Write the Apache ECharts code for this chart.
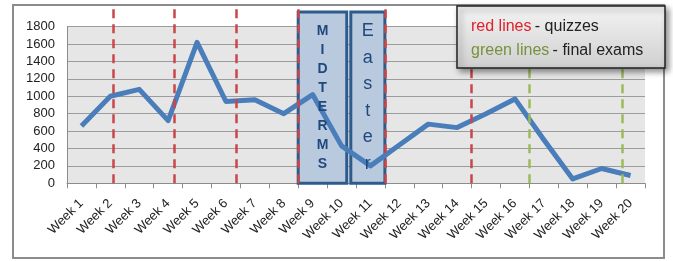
<!doctype html>
<html lang="en">
<head>
    <meta charset="UTF-8">
    <title>Weekly views</title>
    <script src="https://cdn.jsdelivr.net/npm/echarts@6/dist/echarts.min.js"></script>
    <style>
        html, body { margin: 0; padding: 0; background: #fff; }
        #chart { width: 673px; height: 261px; }
    </style>
</head>
<body>
<div id="chart"></div>
<script type="text/javascript">
    // data
    var weeks = ['Week 1','Week 2','Week 3','Week 4','Week 5','Week 6','Week 7','Week 8','Week 9','Week 10',
                 'Week 11','Week 12','Week 13','Week 14','Week 15','Week 16','Week 17','Week 18','Week 19','Week 20'];
    var views = [660, 1000, 1080, 720, 1620, 940, 960, 800, 1020, 430,
                 200, 440, 680, 640, 800, 970, 500, 50, 170, 90];
    var yTicks = [0, 200, 400, 600, 800, 1000, 1200, 1400, 1600, 1800];

    // marker positions, in weeks counted from the left edge of the axis
    var quizLines = [1.6, 3.7, 5.85, 8.0, 11.0, 14.0];
    var examLines = [16.0, 19.2];
    var midtermSpan = [8.0, 9.68];
    var easterSpan = [9.82, 11.0];

    var font = 'Liberation Sans';
    var myChart = echarts.init(document.getElementById('chart'));

    function vlines(list, color) {
        return list.map(function (v) {
            return [{coord: [v, 0], lineStyle: {color: color}}, {coord: [v, 1]}];
        });
    }

    myChart.setOption({
        animation: false,
        textStyle: {fontFamily: font},
        grid: [
            {left: 67, right: 28, top: 26.7, bottom: 77.7, show: true,
             backgroundColor: '#e6e6e6', borderWidth: 0},
            {left: 67, right: 28, top: 6, bottom: 77.7, show: false}
        ],
        xAxis: [
            {
                type: 'category', gridIndex: 0, data: weeks, boundaryGap: true,
                axisLine: {lineStyle: {color: '#8c8c8c', width: 1}},
                axisTick: {show: true, interval: 0, length: 5, lineStyle: {color: '#8c8c8c'}},
                axisLabel: {interval: 0, rotate: 45, fontSize: 13, color: '#222', margin: 18}
            },
            {type: 'value', gridIndex: 1, min: 0, max: 20, show: false}
        ],
        yAxis: [
            {
                type: 'value', gridIndex: 0, min: yTicks[0], max: yTicks[yTicks.length - 1], interval: 200,
                axisLine: {show: true, lineStyle: {color: '#8c8c8c'}},
                axisTick: {show: false},
                axisLabel: {fontSize: 13, color: '#222', margin: 12, formatter: function (v) { return String(v); }},
                splitLine: {lineStyle: {color: '#9c9c9c', width: 1}}
            },
            {type: 'value', gridIndex: 1, min: 0, max: 1, show: false}
        ],
        series: [
            {
                name: 'boxes', type: 'line', xAxisIndex: 1, yAxisIndex: 1, data: [],
                markArea: {
                    silent: true, z: 1,
                    itemStyle: {color: '#b9c9de', borderColor: '#2f5b8c', borderWidth: 3},
                    data: [
                        [{coord: [midtermSpan[0], 0]}, {coord: [midtermSpan[1], 0.966]}],
                        [{coord: [easterSpan[0], 0]}, {coord: [easterSpan[1], 0.966]}]
                    ]
                }
            },
            {
                name: 'views', type: 'line', data: views, showSymbol: false, z: 3,
                lineStyle: {color: '#4a7ebb', width: 5, join: 'round'},
                itemStyle: {color: '#4a7ebb'}
            },
            {
                name: 'lines', type: 'line', xAxisIndex: 1, yAxisIndex: 1, data: [],
                markLine: {
                    silent: true, symbol: 'none', z: 4,
                    label: {show: false},
                    lineStyle: {type: [9, 6], width: 2.5},
                    data: vlines(quizLines, '#c9464a').concat(vlines(examLines, '#9bbb59'))
                }
            },
            {
                name: 'boxText', type: 'line', xAxisIndex: 1, yAxisIndex: 1, data: [],
                markArea: {
                    silent: true, z: 5,
                    itemStyle: {color: 'rgba(0,0,0,0)'},
                    data: [
                        [{coord: [midtermSpan[0], 0],
                          label: {show: true, position: 'inside', formatter: 'M\nI\nD\nT\nE\nR\nM\nS',
                                  fontSize: 14, fontWeight: 'bold', lineHeight: 19, color: '#1f497d', align: 'center'}},
                         {coord: [midtermSpan[1], 0.966]}],
                        [{coord: [easterSpan[0], 0],
                          label: {show: true, position: 'inside', formatter: 'E\na\ns\nt\ne\nr',
                                  fontSize: 18, lineHeight: 26.5, color: '#1f497d', align: 'center'}},
                         {coord: [easterSpan[1], 0.966]}]
                    ]
                }
            }
        ],
        graphic: [
            {
                type: 'rect', z: 0, silent: true,
                shape: {x: 13, y: 5, width: 651, height: 253},
                style: {fill: 'none', stroke: '#8c8c8c', lineWidth: 2}
            },
            {
                type: 'rect', z: 100, silent: true,
                shape: {x: 457, y: 6, width: 208, height: 62},
                style: {
                    fill: new echarts.graphic.LinearGradient(0, 0, 0, 1, [
                        {offset: 0, color: '#f4f4f4'}, {offset: 1, color: '#cfcfcf'}
                    ]),
                    stroke: '#222', lineWidth: 1.5,
                    shadowBlur: 6, shadowOffsetX: 3, shadowOffsetY: 3, shadowColor: 'rgba(0,0,0,0.45)'
                }
            },
            {
                type: 'text', z: 101, silent: true, left: 471, top: 19,
                style: {
                    text: '{r|red lines} {k|- quizzes}\n{g|green lines} {k|- final exams}',
                    rich: {
                        r: {fill: '#e0202a', fontSize: 16, fontFamily: font, lineHeight: 24},
                        g: {fill: '#76923c', fontSize: 16, fontFamily: font, lineHeight: 24},
                        k: {fill: '#222', fontSize: 16, fontFamily: font, lineHeight: 24}
                    }
                }
            }
        ]
    });
</script>
</body>
</html>
